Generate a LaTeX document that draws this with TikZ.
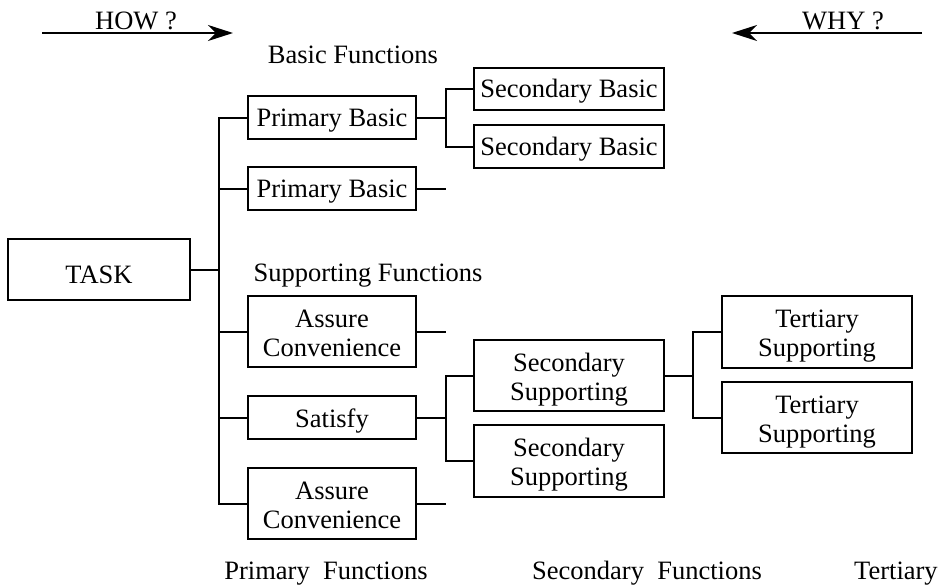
\documentclass[tikz,border=0pt]{standalone}
\usepackage{fontspec}
\setmainfont{Liberation Serif}
\usetikzlibrary{arrows.meta}
\begin{document}
\begin{tikzpicture}[x=1pt,y=-1pt,
  every node/.style={font=\fontsize{26.5}{29}\selectfont, inner sep=0pt},
  box/.style={draw, line width=2pt, align=center, minimum width=168pt, minimum height=43pt, text height=18pt, text depth=0pt},
  two/.style={text height=49pt, text depth=0pt},
  wbox/.style={box, minimum width=190pt},
  lbl/.style={anchor=base},
  conn/.style={line width=2pt},
  bigarrow/.style={line width=2pt, -{Stealth[length=25pt,width=16pt,inset=8pt]}}
]
\useasboundingbox (0,0) rectangle (940,586);
% header arrows
\coordinate (hows) at (42,33);
\coordinate (howe) at (233,33);
\coordinate (whys) at (922,33);
\coordinate (whye) at (732,33);
\draw[bigarrow] (hows) -- (howe);
\draw[bigarrow] (whys) -- (whye);
\node[lbl] (how) at (136,30) {HOW ?};
\node[lbl] (why) at (843,30) {WHY ?};
% group labels
\node[lbl] (basicf) at (353,64) {Basic Functions};
\node[lbl] (suppf) at (368,281) {Supporting Functions};
\node[lbl] (primf) at (326,579) {Primary\ \ Functions};
\node[lbl] (secf) at (647,579) {Secondary\ \ Functions};
\node[lbl, anchor=base west] (terf) at (854,579) {Tertiary};
% boxes
\node[box, minimum width=182pt, minimum height=61pt, text height=27pt] (task) at (99,269.5) {TASK};
\node[box] (pb1) at (332,117.5) {Primary Basic};
\node[box] (pb2) at (332,188.5) {Primary Basic};
\node[box, two, minimum height=71pt] (ac1) at (332,331.5) {Assure\\Convenience};
\node[box, text height=20pt] (sat) at (332,417.5) {Satisfy};
\node[box, two, minimum height=71pt] (ac2) at (332,503.5) {Assure\\Convenience};
\node[wbox, minimum height=42pt] (sb1) at (569,89) {Secondary Basic};
\node[wbox] (sb2) at (569,146.5) {Secondary Basic};
\node[wbox, two, minimum height=71pt] (ss1) at (569,375.5) {Secondary\\Supporting};
\node[wbox, two, minimum height=72pt] (ss2) at (569,461) {Secondary\\Supporting};
\node[wbox, two, minimum height=72pt] (ts1) at (817,332) {Tertiary\\Supporting};
\node[wbox, two, minimum height=71pt] (ts2) at (817,417.5) {Tertiary\\Supporting};
% junctions
\coordinate (tj) at (219,269.5);
\coordinate (bj) at (446,117.5);
\coordinate (sj) at (446,417.5);
\coordinate (ssj) at (693,375.5);
\coordinate (pb2e) at (446,188.5);
\coordinate (ac1e) at (446,331.5);
\coordinate (ac2e) at (446,503.5);
% connectors
\draw[conn] (task.east) -- (tj);
\foreach \n in {pb1,pb2,ac1,sat,ac2} \draw[conn] (\n.west) -| (tj);
\draw[conn] (pb1.east) -- (bj);
\draw[conn] (sb1.west) -| (bj);
\draw[conn] (sb2.west) -| (bj);
\draw[conn] (pb2.east) -- (pb2e);
\draw[conn] (ac1.east) -- (ac1e);
\draw[conn] (ac2.east) -- (ac2e);
\draw[conn] (sat.east) -- (sj);
\draw[conn] (ss1.west) -| (sj);
\draw[conn] (ss2.west) -| (sj);
\draw[conn] (ss1.east) -- (ssj);
\draw[conn] (ts1.west) -| (ssj);
\draw[conn] (ts2.west) -| (ssj);
\end{tikzpicture}
\end{document}
